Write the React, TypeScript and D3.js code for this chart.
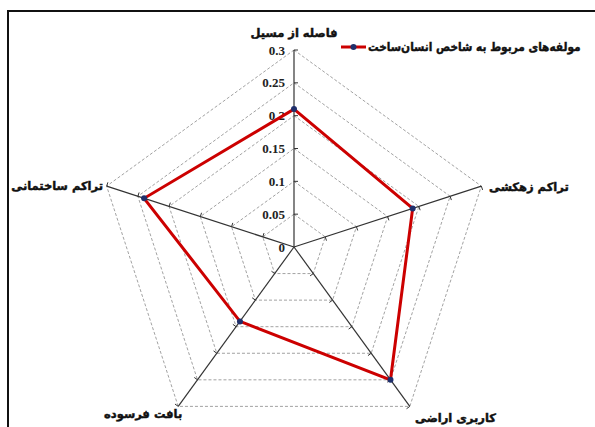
import React from "react";
import * as d3 from "d3";

const WIDTH = 595;
const HEIGHT = 427;
const CENTER = { x: 294, y: 247 };
const RADIUS = 197;

const axes = ["فاصله از مسیل", "تراکم زهکشی", "کاربری اراضی", "بافت فرسوده", "تراکم ساختمانی"];
const values = [0.21, 0.19, 0.25, 0.14, 0.24];
const ticks = [0, 0.05, 0.1, 0.15, 0.2, 0.25, 0.3];
const tickLabels = ["0", "0.05", "0.1", "0.15", "0.2", "0.25", "0.3"];
const seriesName = "مولفه‌های مربوط به شاخص انسان‌ساخت";

// label placement per axis: x, y, anchor
const labelPos = [
  { x: 294, y: 33, anchor: "middle" },
  { x: 489, y: 187, anchor: "start" },
  { x: 415, y: 418, anchor: "start" },
  { x: 104, y: 414, anchor: "start" },
  { x: 103, y: 186, anchor: "end" },
];

const PERSIAN_FONT = "'DejaVu Sans', sans-serif";

export default function App() {
  const r = d3.scaleLinear().domain([0, 0.3]).range([0, RADIUS]);
  const angle = (i: number) => (-90 + (360 / axes.length) * i) * (Math.PI / 180);
  const pt = (i: number, v: number): [number, number] => [
    CENTER.x + r(v) * Math.cos(angle(i)),
    CENTER.y + r(v) * Math.sin(angle(i)),
  ];

  const closed = d3.line<[number, number]>().curve(d3.curveLinearClosed);

  // dashed grid rings
  const grid = ticks.slice(1).map((t, k) => (
    <path
      key={k}
      d={closed(axes.map((_, i) => pt(i, t))) || ""}
      fill="none"
      stroke="#8a8a8a"
      strokeWidth={0.8}
      strokeDasharray="3,2"
    />
  ));

  // axis spokes with small ticks
  const spokes = axes.map((_, i) => {
    const [x2, y2] = pt(i, 0.3);
    const a = angle(i);
    const nx = -Math.sin(a);
    const ny = Math.cos(a);
    return (
      <g key={i}>
        <line x1={CENTER.x} y1={CENTER.y} x2={x2} y2={y2} stroke="#333" strokeWidth={1.2} />
        {ticks.slice(1).map((t, k) => {
          const [tx, ty] = pt(i, t);
          return (
            <line
              key={k}
              x1={tx}
              y1={ty}
              x2={tx + nx * 4}
              y2={ty + ny * 4}
              stroke="#333"
              strokeWidth={1}
            />
          );
        })}
      </g>
    );
  });

  const seriesPts = values.map((v, i) => pt(i, v));

  return (
    <svg
      width={WIDTH}
      height={HEIGHT}
      style={{ position: "absolute", left: 0, top: 0, background: "#fff" }}
    >
      <rect x={8} y={11} width={WIDTH} height={HEIGHT} fill="none" stroke="#111" strokeWidth={2} />
      {grid}
      {spokes}
      {ticks.map((t, k) => (
        <text
          key={k}
          x={CENTER.x - 9}
          y={CENTER.y - r(t)}
          textAnchor="end"
          dominantBaseline="central"
          fontFamily="'Liberation Serif', serif"
          fontWeight="bold"
          fontSize={13}
          fill="#222"
        >
          {tickLabels[k]}
        </text>
      ))}
      <path d={closed(seriesPts) || ""} fill="none" stroke="#cc0000" strokeWidth={3} strokeLinejoin="miter" />
      {seriesPts.map(([x, y], i) => (
        <circle key={i} cx={x} cy={y} r={3} fill="#1f2f6b" />
      ))}
      {axes.map((name, i) => (
        <text
          key={i}
          x={labelPos[i].x}
          y={labelPos[i].y}
          textAnchor={labelPos[i].anchor as any}
          dominantBaseline="central"
          fontFamily={PERSIAN_FONT}
          fontWeight="bold"
          fontSize={11.5}
          fill="#111"
          stroke="#111"
          strokeWidth={0.45}
        >
          {name}
        </text>
      ))}
      <g>
        <line x1={341} y1={47} x2={366} y2={47} stroke="#cc0000" strokeWidth={3} />
        <circle cx={353.5} cy={47} r={3} fill="#1f2f6b" />
        <text
          transform="translate(368,47) scale(0.88,1)"
          x={0}
          y={0}
          textAnchor="start"
          dominantBaseline="central"
          fontFamily={PERSIAN_FONT}
          fontWeight="bold"
          fontSize={12}
          fill="#111"
          stroke="#111"
          strokeWidth={0.45}
        >
          {seriesName}
        </text>
      </g>
    </svg>
  );
}
